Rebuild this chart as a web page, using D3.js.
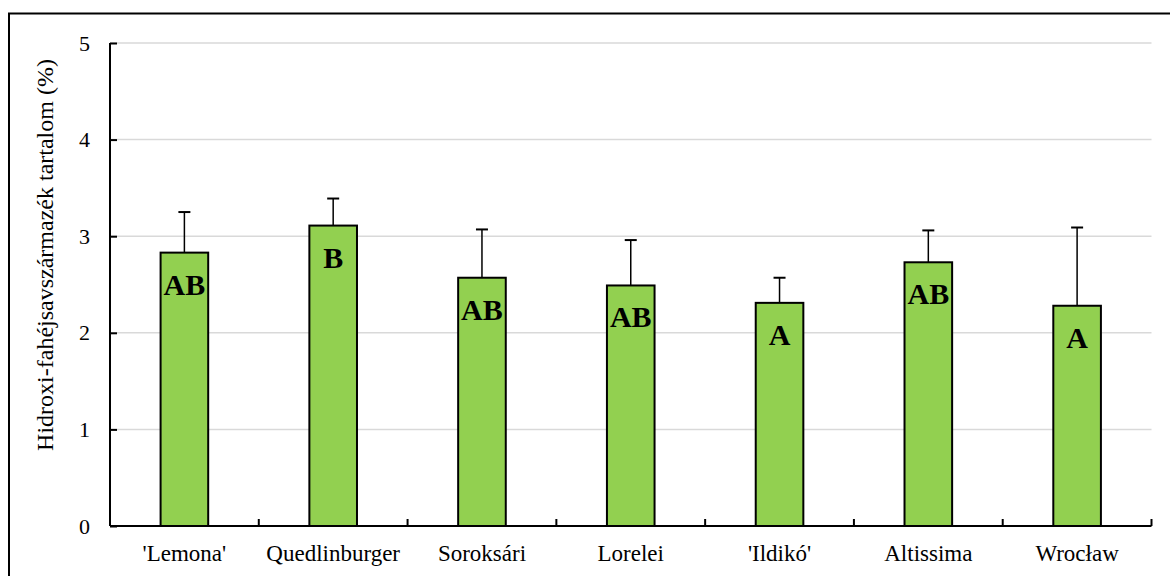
<!DOCTYPE html>
<html><head><meta charset="utf-8">
<script src="https://cdn.jsdelivr.net/npm/d3@7"></script>
<style>
body{margin:0;background:#fff}
svg{display:block}
svg text{font-family:"Liberation Serif",serif !important;fill:#000}
</style>
</head><body>
<svg id="c" width="1170" height="576"></svg>
<script>
const categories = ["'Lemona'", "Quedlinburger", "Soroksári", "Lorelei", "'Ildikó'", "Altissima", "Wrocław"];
const values = [2.83, 3.11, 2.57, 2.49, 2.31, 2.73, 2.28];
const errors = [0.42, 0.28, 0.50, 0.47, 0.26, 0.33, 0.81];
const letters = ["AB", "B", "AB", "AB", "A", "AB", "A"];
const yTicks = [0, 1, 2, 3, 4, 5];
const yLabel = "Hidroxi-fahéjsavszármazék tartalom (%)";

const svg = d3.select("#c");
const m = {left: 110, right: 1151.5, top: 43, bottom: 526};

// outer frame
svg.append("rect").attr("x", 9).attr("y", 13.5).attr("width", 1200).attr("height", 700)
  .attr("fill", "none").attr("stroke", "#000").attr("stroke-width", 2);

const x = d3.scaleBand().domain(categories).range([m.left, m.right]).paddingInner(0).paddingOuter(0);
const y = d3.scaleLinear().domain([0, 5]).range([m.bottom, m.top]);

// gridlines
svg.append("g").selectAll("line").data(yTicks.filter(d => d > 0)).join("line")
  .attr("x1", m.left).attr("x2", m.right)
  .attr("y1", d => y(d)).attr("y2", d => y(d))
  .attr("stroke", "#d9d9d9").attr("stroke-width", 1.5);

const bw = x.bandwidth() * 0.32;
const g = svg.append("g");
// error bars
g.selectAll("line.err").data(categories).join("line").attr("class", "err")
  .attr("x1", d => x(d) + x.bandwidth() / 2).attr("x2", d => x(d) + x.bandwidth() / 2)
  .attr("y1", (d, i) => y(values[i])).attr("y2", (d, i) => y(values[i] + errors[i]))
  .attr("stroke", "#000").attr("stroke-width", 1.5);
g.selectAll("line.cap").data(categories).join("line").attr("class", "cap")
  .attr("x1", d => x(d) + x.bandwidth() / 2 - 6).attr("x2", d => x(d) + x.bandwidth() / 2 + 6)
  .attr("y1", (d, i) => y(values[i] + errors[i])).attr("y2", (d, i) => y(values[i] + errors[i]))
  .attr("stroke", "#000").attr("stroke-width", 2);
// bars
g.selectAll("rect").data(categories).join("rect")
  .attr("x", d => x(d) + (x.bandwidth() - bw) / 2).attr("width", bw)
  .attr("y", (d, i) => y(values[i])).attr("height", (d, i) => y(0) - y(values[i]))
  .attr("fill", "#92d050").attr("stroke", "#000").attr("stroke-width", 2);
// letters
g.selectAll("text").data(categories).join("text")
  .attr("x", d => x(d) + x.bandwidth() / 2).attr("y", (d, i) => y(values[i]) + 42)
  .attr("text-anchor", "middle").attr("font-weight", "bold")
  .attr("font-size", 30).text((d, i) => letters[i]);

// y axis
const ya = svg.append("g").attr("transform", `translate(${m.left},0)`)
  .call(d3.axisLeft(y).tickValues(yTicks).tickFormat(d3.format("d")).tickSize(0).tickPadding(20));
ya.select(".domain").attr("stroke-width", 2).attr("d", `M0,${m.top}V${m.bottom}`);
ya.selectAll(".tick line").attr("x2", 7).attr("stroke-width", 2);
ya.selectAll("text").attr("font-size", 22);

// x axis
const xa = svg.append("g").attr("transform", `translate(0,${m.bottom})`)
  .call(d3.axisBottom(x).tickSize(0).tickPadding(19));
xa.select(".domain").attr("stroke-width", 2).attr("d", `M${m.left},0H${m.right}`);
xa.selectAll("text").attr("font-size", 23);
// category boundary ticks
const bounds = categories.map(d => x(d) + x.bandwidth()).concat([m.left]);
xa.append("g").selectAll("line").data(bounds).join("line")
  .attr("x1", d => d).attr("x2", d => d).attr("y1", 0).attr("y2", -7)
  .attr("stroke", "#000").attr("stroke-width", 2);

// y label
svg.append("text").attr("transform", `translate(53,255) rotate(-90)`)
  .attr("text-anchor", "middle").attr("font-size", 24).text(yLabel);
</script>
</body></html>
